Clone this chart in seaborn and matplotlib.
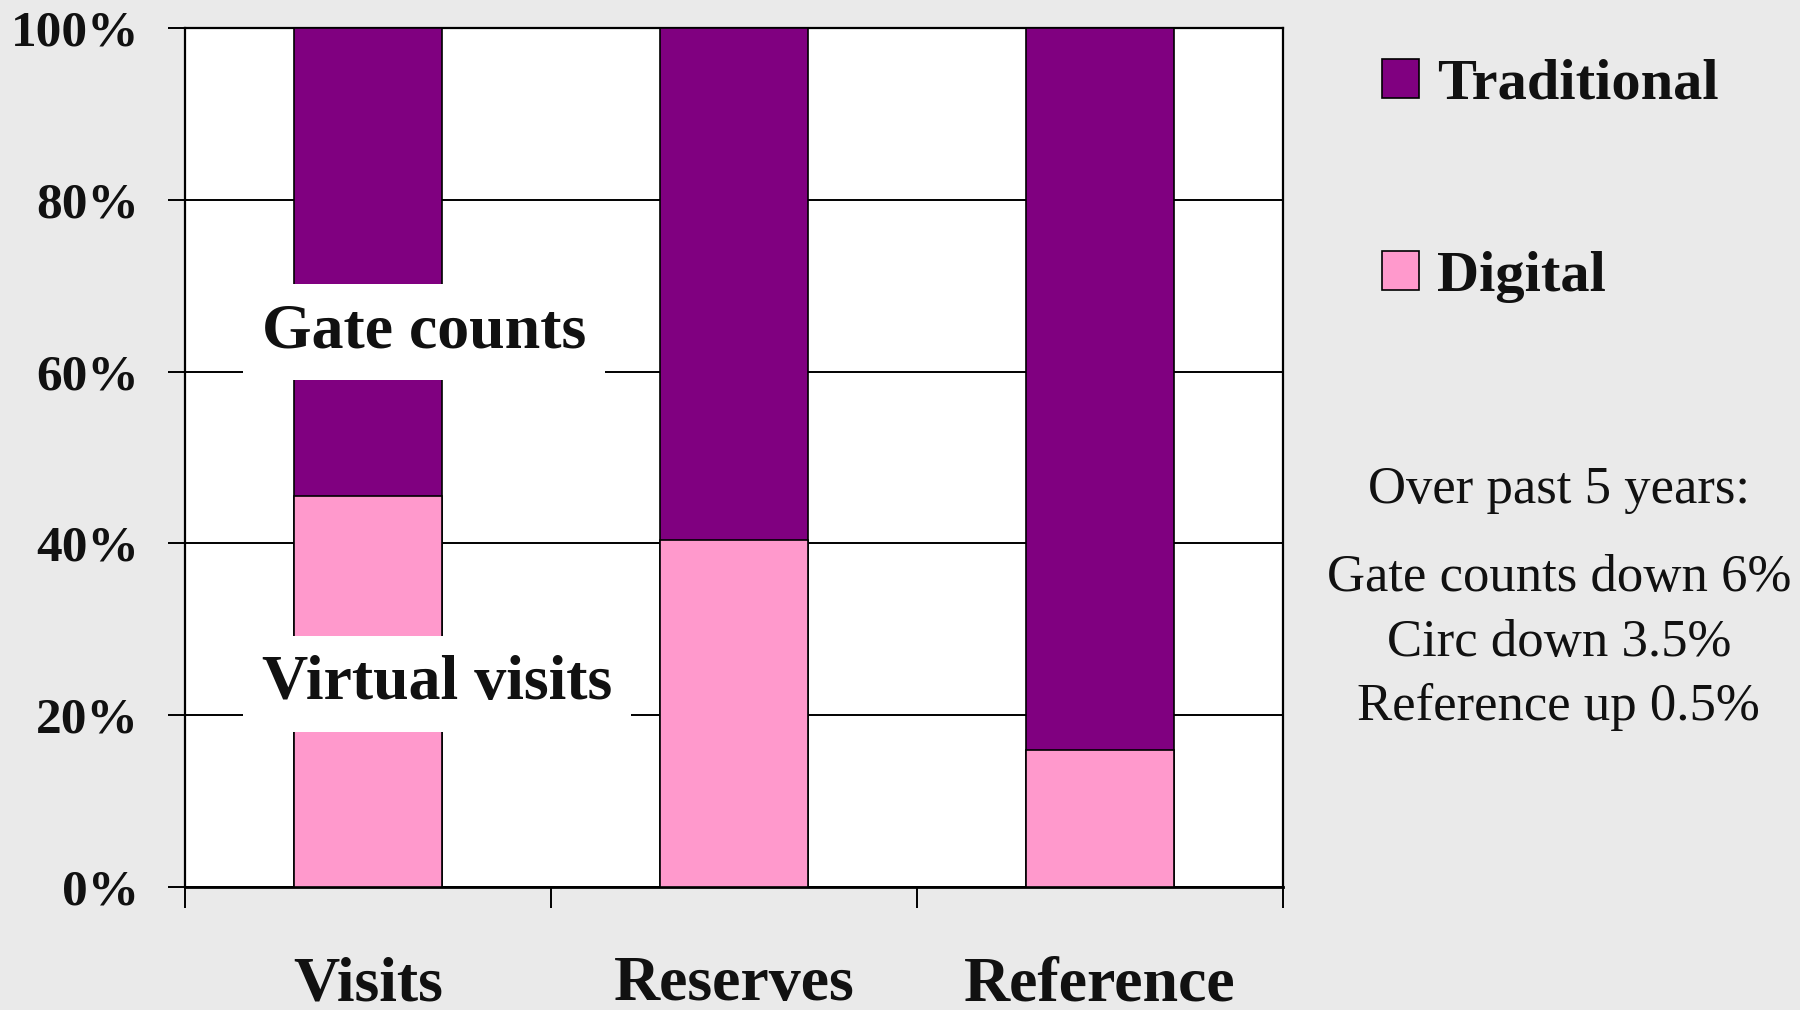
import matplotlib.pyplot as plt
import seaborn as sns
import pandas as pd
from matplotlib.patches import Patch

# ===== DATA =====
categories = ['Visits', 'Reserves', 'Reference']
digital = [45.5, 40.4, 16.0]        # % share, pink segment
traditional = [54.5, 59.6, 84.0]    # % share, purple segment
y_ticks = [0, 20, 40, 60, 80, 100]
series_names = ['Traditional', 'Digital']
notes = ['Over past 5 years:', 'Gate counts down 6%', 'Circ down 3.5%', 'Reference up 0.5%']
note_y = [0.515, 0.428, 0.363, 0.300]

# ===== STYLE =====
PURPLE = '#800080'
PINK = '#FF99CC'
BG = '#EAEAEA'
BAR_W = 0.405

sns.set_theme(style='white')
plt.rcParams['font.family'] = ['Liberation Serif', 'DejaVu Serif']

df = pd.DataFrame({'category': categories, 'digital': digital, 'traditional': traditional})
df['total'] = df['digital'] + df['traditional']

fig = plt.figure(figsize=(18, 10.1), dpi=100, facecolor=BG)
ax = fig.add_axes([0.1028, 0.1218, 0.6100, 0.8505])
ax.set_facecolor('white')

# stacked bars: full height in purple, digital share drawn over it in pink
sns.barplot(data=df, x='category', y='total', color=PURPLE, saturation=1,
            width=BAR_W, edgecolor='black', linewidth=1.2, ax=ax, zorder=3)
sns.barplot(data=df, x='category', y='digital', color=PINK, saturation=1,
            width=BAR_W, edgecolor='black', linewidth=1.2, ax=ax, zorder=3)

ax.set_xlim(-0.5, 2.5)
ax.set_ylim(0, 100)
ax.set_xlabel('')
ax.set_ylabel('')

# gridlines
ax.set_axisbelow(True)
ax.yaxis.grid(True, color='black', linewidth=1.4, zorder=0)
ax.xaxis.grid(False)

# y axis
ax.set_yticks(y_ticks)
ax.set_yticklabels([f'{v}%' for v in y_ticks], fontsize=37, fontweight='bold', color='#111111')
ax.tick_params(axis='y', direction='out', length=12, width=1.4, pad=21, color='black', left=True)

# x axis: labels at bar centres, tick marks between categories
ax.set_xticks(range(len(categories)))
ax.set_xticklabels(categories, fontsize=46, fontweight='bold', color='#111111')
ax.tick_params(axis='x', which='major', length=0, pad=50)
ax.set_xticks([-0.5, 0.5, 1.5, 2.5], minor=True)
ax.tick_params(axis='x', which='minor', direction='out', length=15, width=1.4,
               color='black', bottom=True)

for side in ['left', 'bottom', 'right', 'top']:
    ax.spines[side].set_visible(True)
    ax.spines[side].set_color('black')
    ax.spines[side].set_linewidth(1.6)
ax.spines['bottom'].set_linewidth(2.0)

# in-plot labels with white boxes
box = dict(boxstyle='square,pad=0.3', fc='white', ec='none')
ax.text(-0.29, 64.6, 'Gate counts', fontsize=46, fontweight='bold', color='#111111',
        ha='left', va='center', bbox=box, zorder=5)
ax.text(-0.29, 23.6, 'Virtual visits', fontsize=46, fontweight='bold', color='#111111',
        ha='left', va='center', bbox=box, zorder=5)

# legend
handles = [Patch(facecolor=PURPLE, edgecolor='black', linewidth=1.2, label=series_names[0]),
           Patch(facecolor=PINK, edgecolor='black', linewidth=1.2, label=series_names[1])]
fig.legend(handles=handles, loc='upper left', bbox_to_anchor=(1382 / 1800, 0.9416),
           frameon=False, borderpad=0, borderaxespad=0,
           prop={'size': 42, 'weight': 'bold'}, labelcolor='#111111',
           handlelength=0.64, handleheight=0.64, handletextpad=0.31, labelspacing=2.4)

# side notes
for line, y in zip(notes, note_y):
    fig.text(0.866, y, line, fontsize=38, color='#111111', ha='center', va='center')

fig.savefig('out.png', dpi=100, facecolor=BG)
